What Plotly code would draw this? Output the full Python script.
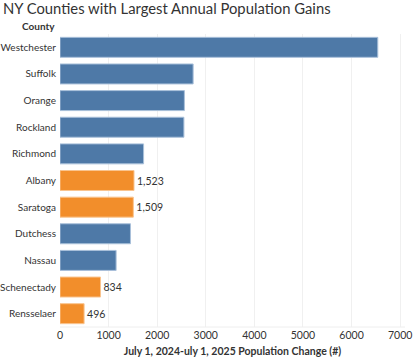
import plotly.graph_objects as go

counties = ["Westchester", "Suffolk", "Orange", "Rockland", "Richmond", "Albany",
            "Saratoga", "Dutchess", "Nassau", "Schenectady", "Rensselaer"]
changes = [6540, 2740, 2560, 2550, 1720, 1523, 1509, 1450, 1155, 834, 496]
highlight = [False, False, False, False, False, True, True, False, False, True, True]
x_ticks = [0, 1000, 2000, 3000, 4000, 5000, 6000, 7000]

BLUE = "#4e79a7"
ORANGE = "#f28e2b"
colors = [ORANGE if h else BLUE for h in highlight]
edge = ["#f9c48f" if h else "#a9c0da" for h in highlight]
labels = [f"{v:,}" if h else "" for v, h in zip(changes, highlight)]

FONT = "Lato"

fig = go.Figure(go.Bar(
    x=changes, y=counties, orientation="h",
    marker=dict(color=colors, line=dict(color=edge, width=1)),
    text=labels, textposition="outside", cliponaxis=False,
    textfont=dict(family=FONT, size=10.5, color="#333333"),
    width=0.75,
))

fig.update_layout(
    width=420, height=360,
    margin=dict(l=60, r=15, t=34, b=33, autoexpand=False),
    paper_bgcolor="white", plot_bgcolor="white",
    showlegend=False,
    font=dict(family=FONT, size=10, color="#333333"),
    title=dict(text="NY Counties with Largest Annual Population Gains",
               x=0.007, xanchor="left", y=0.99, yanchor="top",
               font=dict(family=FONT, size=14.8, color="#333333")),
    xaxis=dict(range=[0, 7100], tickvals=x_ticks, ticktext=[str(t) for t in x_ticks],
               showgrid=True, gridcolor="#f0f0f0", gridwidth=1, zeroline=False,
               showline=False, ticks="", tickfont=dict(size=10.5, color="#333333"),
               automargin=False,
               title=dict(text="<b>July 1, 2024-uly 1, 2025 Population Change (#)</b>",
                          font=dict(size=10.5, color="#333333"), standoff=8)),
    yaxis=dict(autorange="reversed", showgrid=False, ticks="",
               ticklabelstandoff=3,
               tickfont=dict(size=10, color="#333333"), showline=False,
               automargin=False),
    annotations=[dict(text="<b>County</b>", xref="paper", yref="paper",
                      x=-0.008, y=1.0, xanchor="right", yanchor="bottom",
                      showarrow=False, font=dict(size=10, color="#333333"))],
    shapes=[dict(type="line", xref="paper", yref="paper", x0=0, x1=1, y0=0, y1=0,
                 line=dict(color="#eeeeee", width=1))],
)

fig.write_html("out.html", config={"displayModeBar": False},
               post_script="document.body.style.margin='0px';document.body.style.padding='0px';")
